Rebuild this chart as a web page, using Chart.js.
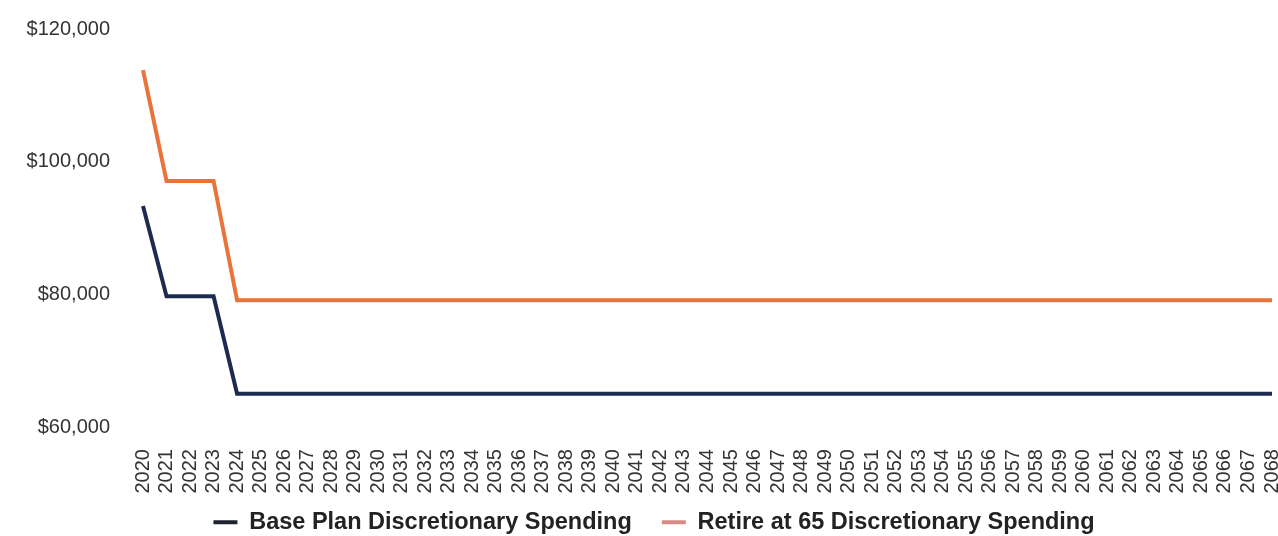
<!DOCTYPE html>
<html>
<head>
<meta charset="utf-8">
<script src="https://cdn.jsdelivr.net/npm/chart.js@4"></script>
<style>
  html, body { margin: 0; padding: 0; background: #ffffff; }
  #wrap { width: 1278px; height: 536px; position: relative; }
</style>
</head>
<body>
<div id="wrap"><canvas id="c"></canvas></div>
<script>
const years = [];
for (let y = 2020; y <= 2068; y++) years.push(String(y));

const basePlanValues = [93300, 79700, 79700, 79700, 65000, 65000, 65000, 65000, 65000, 65000,
  65000, 65000, 65000, 65000, 65000, 65000, 65000, 65000, 65000, 65000,
  65000, 65000, 65000, 65000, 65000, 65000, 65000, 65000, 65000, 65000,
  65000, 65000, 65000, 65000, 65000, 65000, 65000, 65000, 65000, 65000,
  65000, 65000, 65000, 65000, 65000, 65000, 65000, 65000, 65000];

const retire65Values = [113800, 97100, 97100, 97100, 79100, 79100, 79100, 79100, 79100, 79100,
  79100, 79100, 79100, 79100, 79100, 79100, 79100, 79100, 79100, 79100,
  79100, 79100, 79100, 79100, 79100, 79100, 79100, 79100, 79100, 79100,
  79100, 79100, 79100, 79100, 79100, 79100, 79100, 79100, 79100, 79100,
  79100, 79100, 79100, 79100, 79100, 79100, 79100, 79100, 79100];

const seriesNames = ['Base Plan Discretionary Spending', 'Retire at 65 Discretionary Spending'];
const yTicks = [60000, 80000, 100000, 120000];

const FONT = "'Liberation Sans', Arial, Helvetica, sans-serif";

const legendShift = {
  id: 'legendShift',
  afterLayout(chart) {
    const lg = chart.legend;
    if (!lg) return;
    lg.top -= 35; lg.bottom -= 35;
    lg.left += 18; lg.right += 18;
  }
};

new Chart(document.getElementById('c'), {
  type: 'line',
  data: {
    labels: years,
    datasets: [
      {
        label: seriesNames[0],
        data: basePlanValues,
        borderColor: '#1c2b4f',
        backgroundColor: '#1f2330',
        borderWidth: 4,
        pointRadius: 0,
        tension: 0,
        fill: false
      },
      {
        label: seriesNames[1],
        data: retire65Values,
        borderColor: '#e8743b',
        backgroundColor: '#d98a86',
        borderWidth: 4,
        pointRadius: 0,
        tension: 0,
        fill: false
      }
    ]
  },
  plugins: [legendShift],
  options: {
    responsive: true,
    maintainAspectRatio: false,
    animation: false,
    layout: { autoPadding: false, padding: { left: 0, right: 6, top: 29, bottom: -43 } },
    plugins: {
      tooltip: { enabled: false },
      legend: {
        position: 'bottom',
        labels: {
          font: { family: FONT, size: 23.5, weight: 'bold' },
          color: '#222222',
          boxWidth: 24,
          boxHeight: 4,
          padding: 30,
          generateLabels: (chart) => chart.data.datasets.map((ds, i) => ({
            text: ds.label,
            fillStyle: ds.backgroundColor,
            strokeStyle: ds.backgroundColor,
            lineWidth: 0,
            hidden: false,
            datasetIndex: i,
            fontColor: '#222222'
          }))
        }
      }
    },
    scales: {
      x: {
        offset: false,
        afterFit: (scale) => { scale.paddingLeft = 0; scale.paddingRight = 0; },
        grid: { display: false, drawTicks: false },
        border: { display: false },
        ticks: {
          autoSkip: false,
          maxRotation: 90,
          minRotation: 90,
          padding: 22,
          color: '#333333',
          font: { family: FONT, size: 20 }
        }
      },
      y: {
        min: 60000,
        max: 120000,
        afterFit: (scale) => { scale.width = 143; scale.paddingTop = 0; scale.paddingBottom = 0; },
        afterBuildTicks: (scale) => { scale.ticks = yTicks.map(v => ({ value: v })); },
        grid: { display: false, drawTicks: false },
        border: { display: false },
        ticks: {
          padding: 33,
          color: '#333333',
          font: { family: FONT, size: 20 },
          callback: (v) => '$' + Number(v).toLocaleString('en-US')
        }
      }
    }
  }
});
</script>
</body>
</html>
